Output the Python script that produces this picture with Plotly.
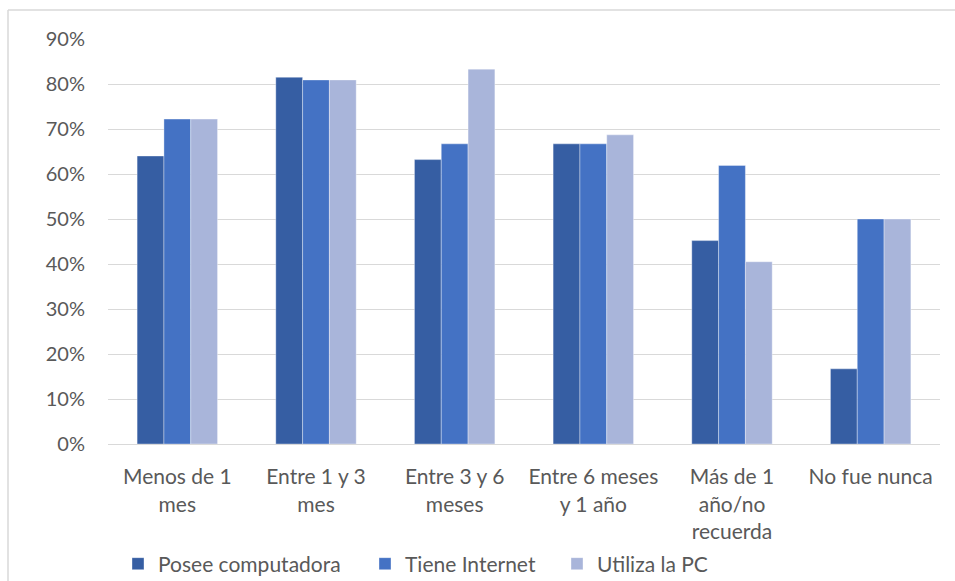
import plotly.graph_objects as go

# Period since last visit (category axis)
categories = [
    "Menos de 1<br>mes",
    "Entre 1 y 3<br>mes",
    "Entre 3 y 6<br>meses",
    "Entre 6 meses<br>y 1 año",
    "Más de 1<br>año/no<br>recuerda",
    "No fue nunca",
]

# Share of respondents per series
posee_computadora = [0.640, 0.815, 0.632, 0.667, 0.452, 0.167]
tiene_internet = [0.722, 0.809, 0.667, 0.667, 0.619, 0.500]
utiliza_pc = [0.722, 0.809, 0.833, 0.687, 0.405, 0.500]

series_names = ["Posee computadora", "Tiene Internet", "Utiliza la PC"]
series_colors = ["#365EA3", "#4472C4", "#A9B5DA"]

ytick_vals = [0.0, 0.1, 0.2, 0.3, 0.4, 0.5, 0.6, 0.7, 0.8, 0.9]
ytick_text = ["0%", "10%", "20%", "30%", "40%", "50%", "60%", "70%", "80%", "90%"]

FONT = "Lato, 'Open Sans', sans-serif"
TEXT_COLOR = "#595959"
GRID_COLOR = "#D9D9D9"
FS_Y = 20
FS_X = 21

W, H = 955, 581
L, R, T, B = 108, 15, 39, 137
pw = W - L - R
ph = H - T - B

def px_x(px):
    return (px - L) / pw

def px_y(py):
    return (H - B - py) / ph

# one legend box per series, each placed on its own
legend_ids = ["legend", "legend2", "legend3"]
legend_left_px = [118, 365, 557]
legend_row_px = 564

fig = go.Figure()
for name, vals, col, lid in zip(series_names, [posee_computadora, tiene_internet, utiliza_pc],
                                series_colors, legend_ids):
    fig.add_trace(go.Bar(
        x=categories,
        y=vals,
        name=name,
        legend=lid,
        marker=dict(color=col, line=dict(color="rgba(255,255,255,0.6)", width=0.6)),
    ))

legend_layout = {}
for lid, left in zip(legend_ids, legend_left_px):
    legend_layout[lid] = dict(
        orientation="h",
        xref="container",
        yref="container",
        x=left / W,
        xanchor="left",
        y=1 - legend_row_px / H,
        yanchor="middle",
        font=dict(family=FONT, size=FS_X, color=TEXT_COLOR),
        bgcolor="rgba(0,0,0,0)",
        borderwidth=0,
    )

fig.update_layout(
    width=W,
    height=H,
    margin=dict(l=L, r=R, t=T, b=B, autoexpand=False),
    paper_bgcolor="white",
    plot_bgcolor="white",
    barmode="group",
    bargap=0.42,
    bargroupgap=0,
    font=dict(family=FONT, size=FS_Y, color=TEXT_COLOR),
    showlegend=True,
    xaxis=dict(
        type="category",
        showgrid=False,
        showline=True,
        linecolor=GRID_COLOR,
        linewidth=1.3,
        ticks="",
        tickfont=dict(family=FONT, size=FS_X, color=TEXT_COLOR),
        ticklabelstandoff=14,
        automargin=False,
        fixedrange=True,
    ),
    yaxis=dict(
        range=[0, 0.9],
        tickvals=ytick_vals,
        ticktext=ytick_text,
        showgrid=True,
        gridcolor=GRID_COLOR,
        gridwidth=1.3,
        zeroline=False,
        showline=False,
        ticks="",
        tickfont=dict(family=FONT, size=FS_Y, color=TEXT_COLOR),
        ticklabelstandoff=22,
        automargin=False,
        fixedrange=True,
    ),
    shapes=[
        # chart frame: top and left edges
        dict(type="line", xref="paper", yref="paper",
             x0=px_x(8), x1=px_x(955), y0=px_y(10), y1=px_y(10),
             line=dict(color=GRID_COLOR, width=1.5)),
        dict(type="line", xref="paper", yref="paper",
             x0=px_x(8), x1=px_x(8), y0=px_y(10), y1=px_y(581),
             line=dict(color=GRID_COLOR, width=1.5)),
    ],
    **legend_layout,
)

fig.write_html("out.html", config={"displayModeBar": False})
